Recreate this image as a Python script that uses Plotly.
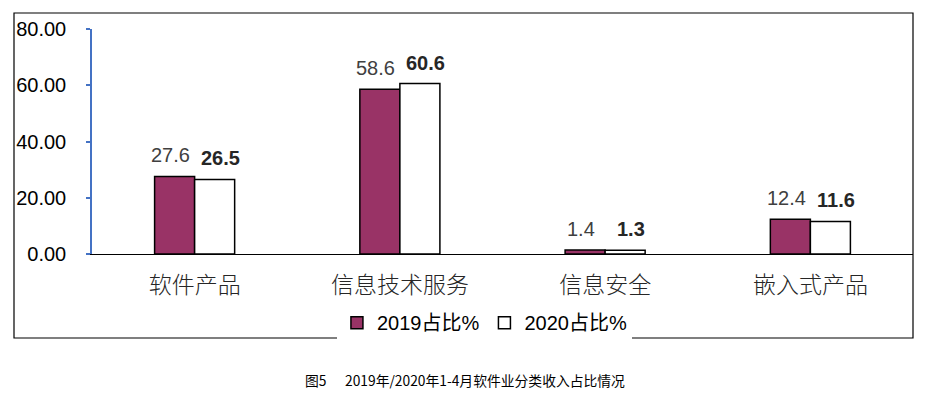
import plotly.graph_objects as go

categories = ["软件产品", "信息技术服务", "信息安全", "嵌入式产品"]
v2019 = [27.6, 58.6, 1.4, 12.4]
v2020 = [26.5, 60.6, 1.3, 11.6]
yticks = [0, 20, 40, 60, 80]
ytick_text = ["0.00", "20.00", "40.00", "60.00", "80.00"]
caption = "图5      2019年/2020年1-4月软件业分类收入占比情况"

fig = go.Figure()
fig.add_trace(go.Bar(
    name="2019占比%", x=categories, y=v2019,
    marker=dict(color="#993366", line=dict(color="black", width=1.5)),
))
fig.add_trace(go.Bar(
    name="2020占比%", x=categories, y=v2020,
    marker=dict(color="white", line=dict(color="black", width=1.5)),
))

# value labels above bars
for c, v in zip(categories, v2019):
    fig.add_annotation(x=c, y=v, text=f"{v:.1f}", showarrow=False,
                       xshift=-24, yshift=21, yanchor="middle", xanchor="center",
                       font=dict(family="Liberation Sans, Arial", size=20, color="#404040"))
for c, v in zip(categories, v2020):
    fig.add_annotation(x=c, y=v, text=f"<b>{v:.1f}</b>", showarrow=False,
                       xshift=26, yshift=21, yanchor="middle", xanchor="center",
                       font=dict(family="Liberation Sans, Arial", size=20, color="#262626"))

fig.update_layout(
    width=931, height=395,
    margin=dict(l=92, r=18, t=29, b=141),
    paper_bgcolor="white", plot_bgcolor="white",
    barmode="group", bargap=0.61, bargroupgap=0,
    showlegend=True,
    legend=dict(orientation="h", x=0.478, xanchor="center", y=-0.305, yanchor="middle",
                font=dict(family="Liberation Sans, Noto Sans CJK SC", size=20, color="black"),
                itemwidth=30, traceorder="normal", tracegroupgap=0),
    xaxis=dict(showline=True, linecolor="black", linewidth=1, ticks="",
               tickfont=dict(family="Noto Sans CJK SC", size=23, color="#262626", weight=300),
               ticklabelstandoff=10, showgrid=False),
    yaxis=dict(range=[0, 80], tickvals=yticks, ticktext=ytick_text, showline=True,
               linecolor="#4472C4", linewidth=1.5, ticks="outside", tickcolor="#4472C4",
               ticklen=4, tickwidth=1.5, showgrid=False, zeroline=False,
               ticklabelstandoff=16,
               tickfont=dict(family="Liberation Sans, Arial", size=20, color="black")),
    font=dict(family="Liberation Sans, Noto Sans CJK SC"),
)

fig.add_shape(type="rect", xref="paper", yref="paper",
              x0=(14 - 92) / 821, x1=1.0, y0=(254 - 338) / 225, y1=(254 - 13) / 225,
              line=dict(color="black", width=1.2), fillcolor="rgba(0,0,0,0)", layer="below")

fig.add_annotation(text=caption, xref="paper", yref="paper",
                   x=(303 - 92) / 821, xanchor="left", y=(254 - 380) / 225, yanchor="middle",
                   showarrow=False,
                   font=dict(family="Noto Sans CJK SC", size=13.8, color="black"))

fig.write_html("out.html")
